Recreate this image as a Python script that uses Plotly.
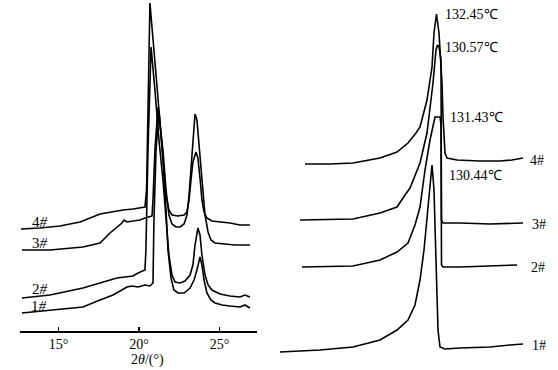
import plotly.graph_objects as go

# ---------------- XRD data (left panel) ----------------
tt_4 = [12.67, 13.85, 15.09, 16.34, 17.58, 18.20, 19.01, 19.63, 20.06, 20.37,
        20.47, 20.58, 20.68, 21.06, 21.30, 21.49, 21.68, 21.86, 22.05, 22.42,
        22.80, 22.98, 23.11, 23.23, 23.35, 23.54, 23.66, 23.79, 23.91, 24.04,
        24.22, 24.53, 25.03, 25.65, 26.27, 26.89]
int_4 = [102, 103, 105, 109, 117, 119, 121, 122, 123, 124,
         141, 231, 328, 256, 206, 166, 136, 121, 116, 115,
         116, 119, 131, 151, 169, 179, 173, 153, 131, 119,
         113, 110, 109, 108, 106, 106]

tt_3 = [12.73, 14.47, 16.52, 17.58, 18.20, 18.94, 19.07, 19.25, 20.06, 20.37,
        20.81, 20.87, 20.99, 21.18, 21.49, 21.68, 21.86, 22.05, 22.30, 22.55,
        22.80, 22.98, 23.11, 23.23, 23.35, 23.48, 23.60, 23.73, 23.85, 23.98,
        24.10, 24.29, 24.47, 24.72, 25.34, 25.96, 26.58, 26.89]
int_3 = [81, 81, 84, 88, 98, 108, 111, 109, 111, 113,
         115, 131, 181, 224, 181, 141, 116, 107, 104, 104,
         107, 116, 136, 166, 196, 217, 211, 186, 161, 136,
         116, 99, 91, 88, 87, 86, 86, 86]

tt_2 = [12.73, 14.47, 16.52, 17.58, 18.63, 19.63, 19.94, 20.37, 20.43, 20.56,
        20.75, 20.99, 21.24, 21.49, 21.68, 21.86, 22.05, 22.24, 22.55, 22.86,
        23.17, 23.35, 23.48, 23.60, 23.66, 23.79, 23.91, 24.10, 24.29, 24.53,
        25.03, 25.65, 26.27, 26.58, 26.89]
int_2 = [33, 36, 43, 48, 53, 55, 58, 61, 81, 181,
         284, 241, 191, 151, 111, 76, 56, 49, 48, 50,
         56, 66, 86, 101, 103, 96, 76, 56, 46, 41,
         37, 35, 34, 36, 34]

tt_1 = [12.73, 14.47, 15.53, 16.52, 17.58, 18.39, 19.25, 19.57, 19.94, 20.37,
        20.68, 20.87, 20.93, 21.06, 21.24, 21.49, 21.68, 21.80, 21.99, 22.17,
        22.42, 22.80, 23.17, 23.42, 23.60, 23.79, 23.91, 24.04, 24.22, 24.47,
        24.72, 25.16, 25.65, 26.27, 26.58, 26.89]
int_1 = [18, 21, 23, 24, 31, 36, 44, 45, 44, 46,
         45, 48, 111, 181, 221, 171, 121, 81, 53, 41,
         38, 38, 43, 51, 61, 74, 66, 51, 38, 31,
         28, 26, 25, 24, 26, 23]

xrd_ticks = [15, 20, 25]
xrd_ticktext = ["15°", "20°", "25°"]
xrd_labels = ["4#", "3#", "2#", "1#"]
xrd_label_x = [13.85, 13.85, 13.85, 13.80]
xrd_label_y = [109, 88, 42, 25]

# ---------------- DSC data (right panel) ----------------
T_4 = [107, 112, 116.6, 122, 125.4, 127.6, 129.2, 130, 131.4, 132.4, 132.8,
       133.3, 133.8, 134.4, 134.6, 135, 135.4, 137.4, 142, 146, 148.4, 150.6]
hf_4 = [20.6, 20.6, 20.7, 21.2, 21.8, 22.7, 23.7, 24.3, 27, 30.3, 33.7,
        35.6, 33.7, 28.7, 25.3, 21.7, 21.2, 21, 20.9, 20.9, 21, 21.2]

T_3 = [106, 116.6, 122, 125.4, 127, 128, 130, 131.4, 132.6, 133.2, 133.5,
       133.8, 134.2, 134.3, 134.6, 138, 144, 150.6]
hf_3 = [15, 15.1, 15.7, 16.3, 17.5, 18.2, 20.7, 23.7, 28.7, 32, 32.5,
        32.3, 31, 15, 14.7, 14.7, 14.6, 14.7]

T_2 = [106.4, 116.6, 122, 125.4, 127.6, 129, 130, 131, 132, 132.6, 133,
       134, 134.2, 134.3, 134.6, 138, 144, 149.4]
hf_2 = [10.3, 10.4, 11, 11.8, 12.7, 14.5, 16.3, 20, 23, 24.5, 25.3,
        25.3, 24.5, 10.5, 10.3, 10.3, 10.4, 10.5]

T_1 = [102, 110, 116.6, 122, 125.4, 127.6, 129, 130, 130.8, 131.4, 132,
       132.4, 132.8, 133.2, 133.6, 134, 135, 138, 144, 148, 150.6]
hf_1 = [1.8, 2, 2.3, 3, 4, 5, 6.5, 9, 12, 15.3, 19,
        20.5, 18, 11, 4, 2.3, 2.1, 2.2, 2.3, 2.5, 2.6]

peak_labels = ["132.45℃", "130.57℃", "131.43℃", "130.44℃"]
peak_label_T = [134.6, 134.6, 135.6, 135.4]
peak_label_hf = [35.6, 32.3, 25.3, 19.5]
dsc_labels = ["4#", "3#", "2#", "1#"]
dsc_label_T = [151.6, 152.0, 151.8, 152.0]
dsc_label_hf = [21.0, 14.6, 10.3, 2.5]

FONT = "Liberation Serif"
W, H = 558, 370
line = dict(color="black", width=1.6)

fig = go.Figure()
for tt, inten in [(tt_4, int_4), (tt_3, int_3), (tt_2, int_2), (tt_1, int_1)]:
    fig.add_trace(go.Scatter(x=tt, y=inten, mode="lines", line=line,
                             xaxis="x", yaxis="y", hoverinfo="skip"))
for T, hf in [(T_4, hf_4), (T_3, hf_3), (T_2, hf_2), (T_1, hf_1)]:
    fig.add_trace(go.Scatter(x=T, y=hf, mode="lines", line=line,
                             xaxis="x2", yaxis="y2", hoverinfo="skip"))

ann = []
for t, x, y in zip(xrd_labels, xrd_label_x, xrd_label_y):
    ann.append(dict(text=t.replace("#", "<i>#</i>"), x=x, y=y, xref="x", yref="y",
                    showarrow=False, xanchor="center", yanchor="middle",
                    font=dict(family=FONT, size=15, color="black")))
ann.append(dict(text="2<i>θ</i>/(°)", x=147 / W, y=(H - 360) / H, xref="paper",
                yref="paper", showarrow=False, xanchor="center", yanchor="middle",
                font=dict(family=FONT, size=14, color="black")))
for t, x, y in zip(peak_labels, peak_label_T, peak_label_hf):
    ann.append(dict(text=t, x=x, y=y, xref="x2", yref="y2", showarrow=False,
                    xanchor="left", yanchor="middle",
                    font=dict(family=FONT, size=14, color="black")))
for t, x, y in zip(dsc_labels, dsc_label_T, dsc_label_hf):
    ann.append(dict(text=t, x=x, y=y, xref="x2", yref="y2", showarrow=False,
                    xanchor="left", yanchor="middle",
                    font=dict(family=FONT, size=14, color="black")))

fig.update_layout(
    width=W, height=H,
    margin=dict(l=0, r=0, t=0, b=0),
    paper_bgcolor="white", plot_bgcolor="rgba(0,0,0,0)",
    showlegend=False,
    xaxis=dict(domain=[20 / W, 257 / W], range=[12.61, 27.33],
               showline=True, linecolor="black", linewidth=1.5,
               ticks="inside", ticklen=4, tickcolor="black", tickwidth=1.2,
               tickvals=xrd_ticks, ticktext=xrd_ticktext,
               tickfont=dict(family=FONT, size=14, color="black"),
               showgrid=False, zeroline=False, fixedrange=True),
    yaxis=dict(domain=[(H - 331) / H, 1], range=[0, 331], visible=False,
               fixedrange=True),
    xaxis2=dict(domain=[270 / W, 1], range=[100, 157.6], visible=False,
                fixedrange=True),
    yaxis2=dict(domain=[0, 1], range=[0, 37], visible=False, anchor="x2",
                fixedrange=True),
    annotations=ann,
)

fig.write_html("out.html",
               config={"displayModeBar": False, "staticPlot": True},
               post_script="document.body.style.margin='0';"
                           "document.body.style.overflow='hidden';")
